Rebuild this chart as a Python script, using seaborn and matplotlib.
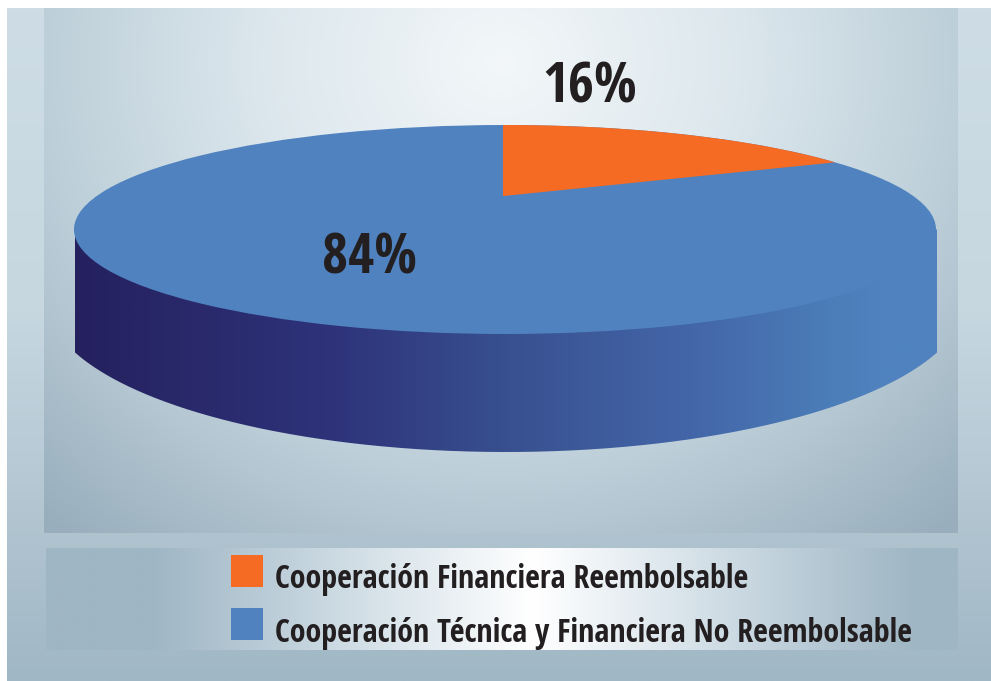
import numpy as np
import matplotlib
matplotlib.use("Agg")
import matplotlib.pyplot as plt
from matplotlib.path import Path
from matplotlib.patches import PathPatch, Rectangle
from matplotlib.colors import LinearSegmentedColormap
import seaborn as sns

categories = ["Cooperación Financiera Reembolsable", "Cooperación Técnica y Financiera No Reembolsable"]
values = [16, 84]
colors = ["#F56B23", "#4F82BE"]
labels = ["16%", "84%"]

sns.set_theme(style="white")
FONT = ['Open Sans Condensed', 'DejaVu Sans']
plt.rcParams['font.family'] = FONT
W, H = 991, 681
fig = plt.figure(figsize=(W/100, H/100), dpi=100, facecolor="white")
bg = fig.add_axes([0, 0, 1, 1])
bg.axis("off")

yy, xx = np.mgrid[0:1:300j, 0:1:440j]

def panel(x0, x1, y0, y1, field, stops):
    cmap = LinearSegmentedColormap.from_list("p", stops)
    bg.imshow(field, extent=(x0, x1, y1, y0), cmap=cmap, vmin=0, vmax=1,
              aspect="auto", zorder=1, interpolation="bilinear")

# outer panel: mostly vertical fade
panel(7, 991, 8, 681, yy, [(0, "#CEDDE5"), (0.45, "#C6D7E0"), (0.78, "#B0C4D0"), (1, "#A0B7C5")])
# inner panel
inner = np.clip(np.sqrt(((xx-0.5)/0.75)**2 + ((yy-0.1)/1.18)**2), 0, 1)
panel(44, 958, 8, 533, inner, [(0, "#F3F7F9"), (0.35, "#DCE7ED"), (0.67, "#BDCFD9"), (1, "#98AEBC")])
# legend band
band = np.clip(np.abs(xx-0.535)/0.42, 0, 1)
panel(46, 958, 548, 650, band, [(0, "#FFFFFF"), (0.35, "#DDE7ED"), (0.7, "#BACCD7"), (1, "#9FB6C4")])
bg.set_xlim(0, W); bg.set_ylim(H, 0)

# cylinder side: top ellipse above a wider, clipped bottom ellipse
cx, cy, rx, ry = 505, 229.5, 431, 104.5
bx, by, brx, bry = 506, 299, 460, 153
side_l, side_r = 75, 937
xs = np.linspace(side_l, side_r, 400)
ybot = by + bry*np.sqrt(1 - ((xs-bx)/brx)**2)
verts = np.r_[[[side_l, cy]], np.c_[xs, ybot], [[side_r, cy]], [[side_l, cy]]]
clip = PathPatch(Path(verts), transform=bg.transData, fc="none", ec="none")
bg.add_patch(clip)
side_cmap = LinearSegmentedColormap.from_list(
    "s", [(0, "#25215F"), (0.3, "#2E337A"), (0.5, "#38508F"), (0.725, "#4467A9"), (0.875, "#4B7DB8"), (0.935, "#4F82BE"), (1, "#4F82BE")])
side = bg.imshow(np.linspace(0, 1, 400)[None, :], extent=(side_l, side_r, 460, cy),
                 cmap=side_cmap, aspect="auto", zorder=2)
side.set_clip_path(clip)
bg.set_xlim(0, W); bg.set_ylim(H, 0)

# pie top
ax = fig.add_axes([(cx-rx)/W, 1-(cy+ry)/H, 2*rx/W, 2*ry/H])
ax.set_zorder(3); ax.patch.set_alpha(0)
wedges, _ = ax.pie(values, colors=colors, startangle=90, counterclock=False,
                   wedgeprops=dict(linewidth=0), frame=False)
# perspective: foreshortened orange wedge with raised apex; blue fills the rest
a = np.radians(np.linspace(90.27, 90 - 360*values[0]/100*0.868, 60))
apex = (-0.0047, 0.32)
arc = np.c_[np.cos(a), np.sin(a)]
wedges[0].set_visible(False)
wedges[1].set_visible(False)
ax.pie([100], colors=[colors[1]], wedgeprops=dict(linewidth=0), frame=False)
ax.add_patch(PathPatch(Path(np.r_[[apex], arc, [apex]]), fc=colors[0], ec="none", zorder=4))
ax.set_aspect("auto"); ax.set_xlim(-1, 1); ax.set_ylim(-1, 1); ax.axis("off")

# overlay for text and legend
txt = fig.add_axes([0, 0, 1, 1]); txt.set_xlim(0, W); txt.set_ylim(H, 0)
txt.axis("off"); txt.patch.set_alpha(0); txt.set_zorder(5)
fp = dict(family=FONT, fontweight="bold", color="#231F20")
txt.text(590, 88, labels[0], fontsize=40.5, ha="center", va="center", **fp)
txt.text(369, 259, labels[1], fontsize=40.5, ha="center", va="center", **fp)
for i, (c, col) in enumerate(zip(categories, colors)):
    y = [571, 624][i]
    txt.add_patch(Rectangle((231, y-16), 32, 32, fc=col, ec="none"))
    txt.text(275, y+[9, 10][i], c, fontsize=23, ha="left", va="center", **fp)
fig.savefig("out.png", dpi=100)
